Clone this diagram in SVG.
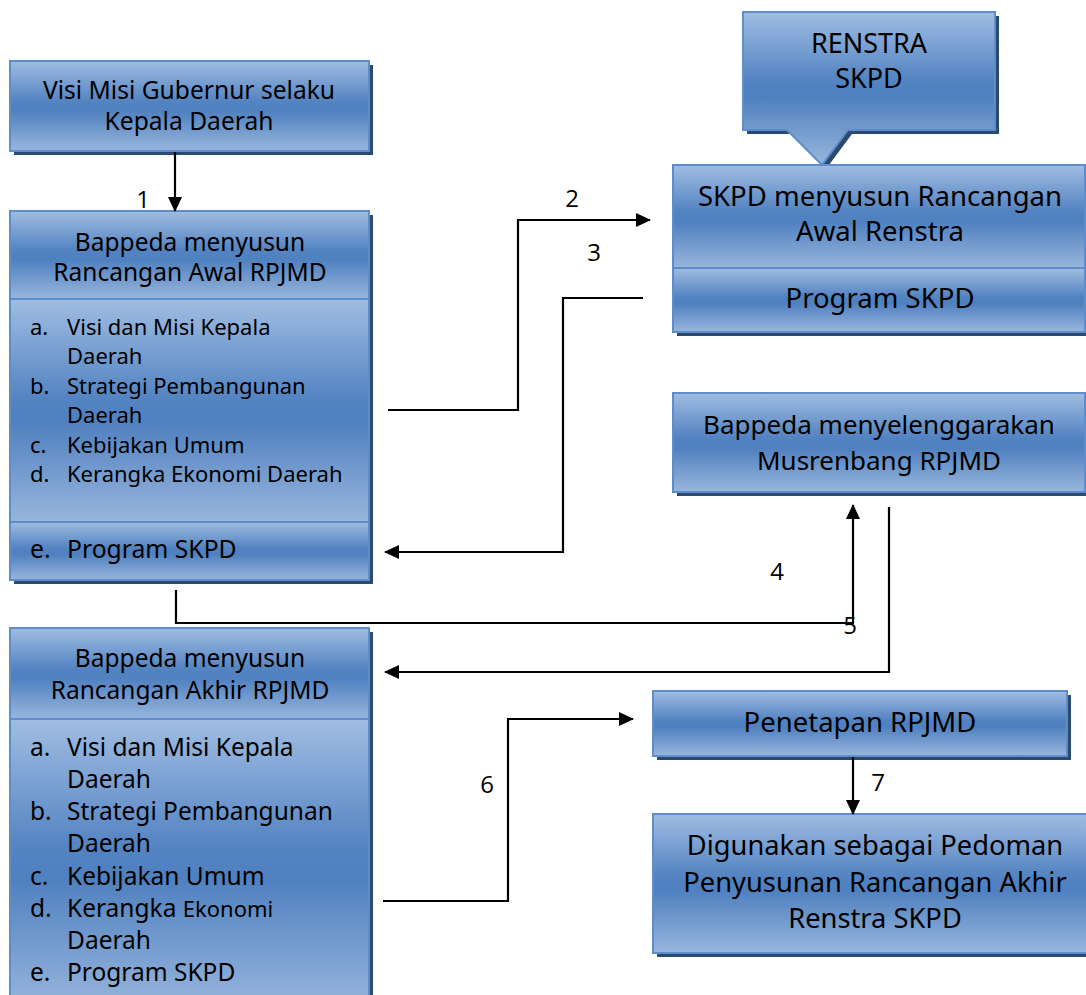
<svg xmlns="http://www.w3.org/2000/svg" width="1086" height="995" viewBox="0 0 1086 995">
<defs>
<linearGradient id="g" x1="0" y1="0" x2="0" y2="1">
<stop offset="0" stop-color="#a0bde2"/>
<stop offset="0.45" stop-color="#5383c1"/>
<stop offset="0.55" stop-color="#4f80bf"/>
<stop offset="1" stop-color="#98b6dd"/>
</linearGradient>
<marker id="ah" markerUnits="userSpaceOnUse" markerWidth="16" markerHeight="14" refX="14" refY="7" orient="auto">
<path d="M0,0 L15,7 L0,14 Z" fill="#000"/>
</marker>
</defs>
<style>
.box{fill:url(#g);stroke:#5f8dc9;stroke-width:2}
.sh{fill:#2b4a70}
text{font-family:"Noto Sans","DejaVu Sans",sans-serif;fill:#000}
.c{text-anchor:middle}
.lbl{font-family:"Open Sans","Noto Sans",sans-serif;font-size:24px;text-anchor:middle}
.con{fill:none;stroke:#000;stroke-width:2.2}
</style>
<rect width="1086" height="995" fill="#fff"/>

<g id="visi-misi">
<rect class="sh" x="14" y="65" width="359" height="90"/>
<rect class="box" x="10" y="61" width="359" height="90"/>
<text class="c" x="189" y="99" font-size="24.6">Visi Misi Gubernur selaku</text>
<text class="c" x="189" y="130" font-size="24.6">Kepala Daerah</text>
</g>

<g id="rancangan-awal">
<rect class="sh" x="14" y="215" width="359" height="369"/>
<rect class="box" x="10" y="211" width="359" height="88"/>
<rect class="box" x="10" y="299" width="359" height="223"/>
<rect class="box" x="10" y="522" width="359" height="58"/>
<text class="c" x="190" y="251" font-size="24.5">Bappeda menyusun</text>
<text class="c" x="190" y="281" font-size="24.5">Rancangan Awal RPJMD</text>
<g font-size="22">
<text x="30" y="335">a.</text><text x="67" y="335">Visi dan Misi Kepala</text>
<text x="67" y="364">Daerah</text>
<text x="30" y="394">b.</text><text x="67" y="394">Strategi Pembangunan</text>
<text x="67" y="423">Daerah</text>
<text x="30" y="453">c.</text><text x="67" y="453">Kebijakan Umum</text>
<text x="30" y="482">d.</text><text x="67" y="482">Kerangka Ekonomi Daerah</text>
</g>
<text x="30" y="558" font-size="24.7">e.</text><text x="67" y="558" font-size="24.7">Program SKPD</text>
</g>

<g id="rancangan-akhir">
<rect class="sh" x="14" y="632" width="359" height="380"/>
<rect class="box" x="10" y="628" width="359" height="91"/>
<rect class="box" x="10" y="719" width="359" height="290"/>
<text class="c" x="190" y="667" font-size="24.5">Bappeda menyusun</text>
<text class="c" x="190" y="699" font-size="24.5">Rancangan Akhir RPJMD</text>
<g font-size="24.5">
<text x="30" y="756">a.</text><text x="67" y="756">Visi dan Misi Kepala</text>
<text x="67" y="788">Daerah</text>
<text x="30" y="820">b.</text><text x="67" y="820">Strategi Pembangunan</text>
<text x="67" y="852">Daerah</text>
<text x="30" y="885">c.</text><text x="67" y="885">Kebijakan Umum</text>
<text x="30" y="917">d.</text><text x="67" y="917">Kerangka <tspan font-size="22">Ekonomi</tspan></text>
<text x="67" y="949">Daerah</text>
<text x="30" y="981">e.</text><text x="67" y="981">Program SKPD</text>
</g>
</g>

<g id="renstra">
<path class="sh" d="M747,16 H999 V134 H852 L826,169 L791,134 H747 Z"/>
<path class="box" d="M743,12 H995 V130 H848 L822,165 L787,130 H743 Z"/>
<text class="c" x="869" y="53" font-size="27">RENSTRA</text>
<text class="c" x="869" y="88" font-size="27">SKPD</text>
</g>

<g id="skpd-rancangan">
<rect class="sh" x="677" y="169" width="420" height="167"/>
<rect class="box" x="673" y="165" width="412" height="103"/>
<rect class="box" x="673" y="268" width="412" height="64"/>
<text class="c" x="880" y="206" font-size="27.5">SKPD menyusun Rancangan</text>
<text class="c" x="880" y="241" font-size="27.5">Awal Renstra</text>
<text class="c" x="880" y="308" font-size="27.5">Program SKPD</text>
</g>

<g id="musrenbang">
<rect class="sh" x="677" y="397" width="420" height="99"/>
<rect class="box" x="673" y="393" width="412" height="99"/>
<text class="c" x="879" y="434" font-size="26">Bappeda menyelenggarakan</text>
<text class="c" x="879" y="470" font-size="26">Musrenbang RPJMD</text>
</g>

<g id="penetapan">
<rect class="sh" x="657" y="695" width="414" height="65"/>
<rect class="box" x="653" y="691" width="414" height="65"/>
<text class="c" x="860" y="732" font-size="27.5">Penetapan RPJMD</text>
</g>

<g id="pedoman">
<rect class="sh" x="657" y="818" width="450" height="139"/>
<rect class="box" x="653" y="814" width="444" height="139"/>
<text class="c" x="875" y="855" font-size="27.3">Digunakan sebagai Pedoman</text>
<text class="c" x="875" y="892" font-size="27.3">Penyusunan Rancangan Akhir</text>
<text class="c" x="875" y="928" font-size="27.3">Renstra SKPD</text>
</g>

<g id="connectors">
<path class="con" d="M175,152 V211" marker-end="url(#ah)"/>
<path class="con" d="M388,410 H518 V220 H650" marker-end="url(#ah)"/>
<path class="con" d="M643,298 H563 V552 H385" marker-end="url(#ah)"/>
<path class="con" d="M176,590 V623 H853 V505" marker-end="url(#ah)"/>
<path class="con" d="M889,507 V672 H385" marker-end="url(#ah)"/>
<path class="con" d="M383,901 H508 V719 H633" marker-end="url(#ah)"/>
<path class="con" d="M853,757 V814" marker-end="url(#ah)"/>
<text class="lbl" x="143" y="208">1</text>
<text class="lbl" x="572" y="207">2</text>
<text class="lbl" x="594" y="261">3</text>
<text class="lbl" x="777" y="580">4</text>
<text class="lbl" x="850" y="634">5</text>
<text class="lbl" x="487" y="793">6</text>
<text class="lbl" x="878" y="791">7</text>
</g>
</svg>
